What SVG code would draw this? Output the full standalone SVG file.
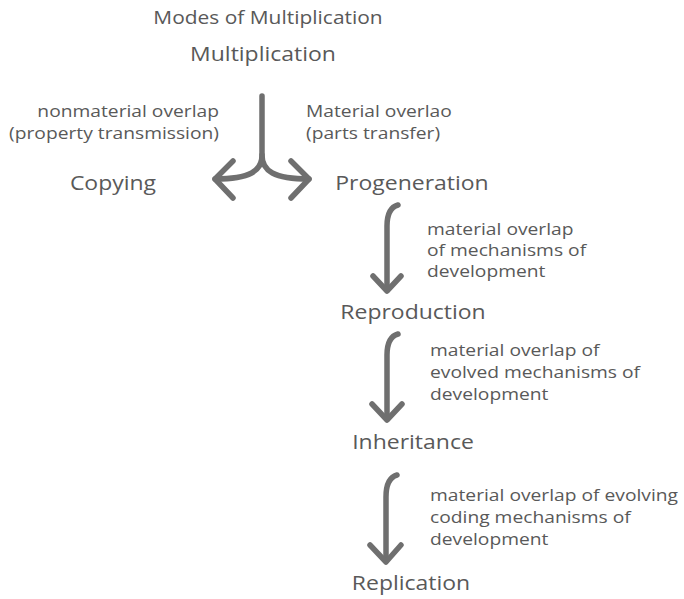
<svg xmlns="http://www.w3.org/2000/svg" width="684" height="599" viewBox="0 0 684 599">
  <style>
    text { font-family: "Open Sans", "Noto Sans", "DejaVu Sans", sans-serif; fill: #595959; }
    .title { font-size: 18.5px; }
    .node { font-size: 20.3px; text-anchor: middle; }
    .lbl { font-size: 17px; }
    .r { text-anchor: end; }
    .arrow { fill: none; stroke: #6f6f6f; stroke-width: 5.5; stroke-linecap: round; stroke-linejoin: round; }
  </style>
  <rect width="684" height="599" fill="#ffffff"/>

  <text class="title" text-anchor="middle" transform="translate(268,24) scale(1.132,1)">Modes of Multiplication</text>

  <g id="node-multiplication"><text class="node" transform="translate(263,61) scale(1.132,1)">Multiplication</text></g>
  <g id="node-copying"><text class="node" transform="translate(113,190) scale(1.132,1)">Copying</text></g>
  <g id="node-progeneration"><text class="node" transform="translate(412,190) scale(1.132,1)">Progeneration</text></g>
  <g id="node-reproduction"><text class="node" transform="translate(413,319) scale(1.132,1)">Reproduction</text></g>
  <g id="node-inheritance"><text class="node" transform="translate(413,449) scale(1.132,1)">Inheritance</text></g>
  <g id="node-replication"><text class="node" transform="translate(411,590) scale(1.132,1)">Replication</text></g>

  <g id="connectors">
    <!-- split arrow -->
    <path class="arrow" d="M262,96 L262,155 C262,171 250,179 215,179"/>
    <path class="arrow" d="M262,155 C262,171 274,179 309,179"/>
    <path class="arrow" d="M233,161 L215,179 L233,198"/>
    <path class="arrow" d="M291,161 L309,179 L291,198"/>
    <!-- Progeneration -> Reproduction -->
    <path class="arrow" d="M398,205 C391,207 387,213 387,226 L387,290"/>
    <path class="arrow" d="M373,276 L387,291 L401,276"/>
    <!-- Reproduction -> Inheritance -->
    <path class="arrow" d="M398,334 C391,336 387,342 387,355 L387,419"/>
    <path class="arrow" d="M372,404 L387,420 L402,404"/>
    <!-- Inheritance -> Replication -->
    <path class="arrow" d="M397,475 C390,477 386,484 386,497 L386,561"/>
    <path class="arrow" d="M370,545 L386,562 L401,545"/>
  </g>

  <g id="edge-labels">
    <text class="lbl r" transform="translate(219,117) scale(1.132,1)">nonmaterial overlap</text>
    <text class="lbl r" transform="translate(219,139) scale(1.132,1)">(property transmission)</text>
    <text class="lbl" transform="translate(306,117) scale(1.132,1)">Material overlao</text>
    <text class="lbl" transform="translate(306,139) scale(1.132,1)">(parts transfer)</text>

    <text class="lbl" transform="translate(427,235) scale(1.132,1)">material overlap</text>
    <text class="lbl" transform="translate(427,256) scale(1.132,1)">of mechanisms of</text>
    <text class="lbl" transform="translate(427,277) scale(1.132,1)">development</text>

    <text class="lbl" transform="translate(430,356) scale(1.132,1)">material overlap of</text>
    <text class="lbl" transform="translate(430,378) scale(1.132,1)">evolved mechanisms of</text>
    <text class="lbl" transform="translate(430,400) scale(1.132,1)">development</text>

    <text class="lbl" transform="translate(430,501) scale(1.132,1)">material overlap of evolving</text>
    <text class="lbl" transform="translate(430,523) scale(1.132,1)">coding mechanisms of</text>
    <text class="lbl" transform="translate(430,545) scale(1.132,1)">development</text>
  </g>
</svg>
